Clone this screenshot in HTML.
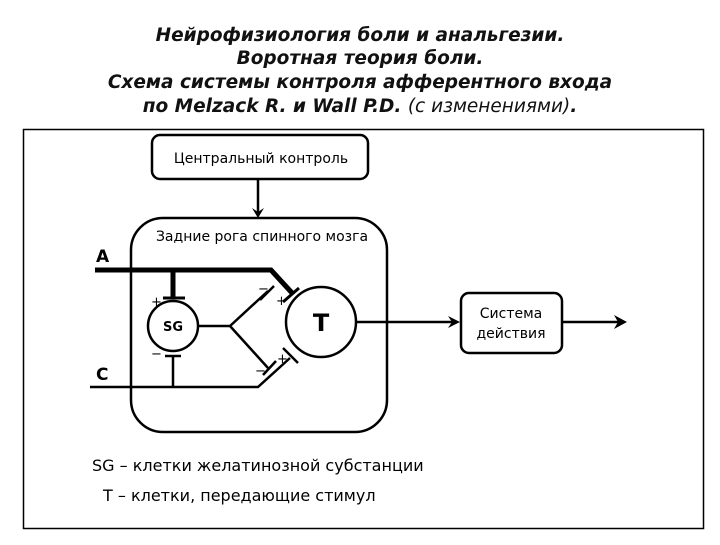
<!DOCTYPE html>
<html><head><meta charset="utf-8"><style>
body{margin:0;background:#fff;width:720px;height:540px;overflow:hidden;font-family:"Liberation Sans","DejaVu Sans",sans-serif}
</style></head><body>
<svg width="720" height="540" viewBox="0 0 720 540" xmlns="http://www.w3.org/2000/svg" font-family="'DejaVu Sans','Liberation Sans',sans-serif">
<g font-weight="bold" font-style="italic" font-size="18.5" text-anchor="middle" fill="#111">
<text x="360" y="41">Нейрофизиология боли и анальгезии.</text>
<text x="360" y="64">Воротная теория боли.</text>
<text x="360" y="88">Схема системы контроля афферентного входа</text>
<text x="360" y="112">по Melzack R. и Wall P.D. <tspan font-weight="normal">(с изменениями)</tspan>.</text>
</g>
<rect x="23.5" y="129.5" width="680" height="399" fill="none" stroke="#000" stroke-width="1.5"/>
<rect x="152" y="135" width="216" height="44" rx="8" fill="none" stroke="#000" stroke-width="2.5"/>
<text x="261" y="163" font-size="14" text-anchor="middle">Центральный контроль</text>
<line x1="258" y1="179" x2="258" y2="214" stroke="#000" stroke-width="2.5"/>
<path d="M252,208 L258,218 L264,208 L258,212Z" fill="#000"/>
<rect x="131" y="218" width="256" height="214" rx="32" fill="none" stroke="#000" stroke-width="2.5"/>
<text x="262" y="241" font-size="14" text-anchor="middle">Задние рога спинного мозга</text>
<text x="96" y="262" font-size="17" font-weight="bold">A</text>
<text x="96" y="380" font-size="17" font-weight="bold">C</text>
<path d="M95,270 L271,270 L293,294" fill="none" stroke="#000" stroke-width="5"/>
<line x1="283" y1="302" x2="299" y2="288" stroke="#000" stroke-width="3"/>
<line x1="173" y1="270" x2="173" y2="298" stroke="#000" stroke-width="5"/>
<line x1="163" y1="298" x2="185" y2="298" stroke="#000" stroke-width="3"/>
<circle cx="173" cy="326" r="25" fill="none" stroke="#000" stroke-width="2.5"/>
<text x="173" y="331" font-size="13" font-weight="bold" text-anchor="middle">SG</text>
<circle cx="321" cy="322" r="35" fill="none" stroke="#000" stroke-width="2.5"/>
<text x="321" y="331" font-size="24" font-weight="bold" text-anchor="middle">T</text>
<path d="M198,326 L230,326 L268,291 M230,326 L268,368" fill="none" stroke="#000" stroke-width="2.5"/>
<line x1="260" y1="300" x2="274" y2="286" stroke="#000" stroke-width="2.5"/>
<path d="M90,387 L258,387 L290,358" fill="none" stroke="#000" stroke-width="2.5"/>
<line x1="263" y1="375" x2="276" y2="361" stroke="#000" stroke-width="2.5"/>
<line x1="283" y1="348" x2="298" y2="363" stroke="#000" stroke-width="2.5"/>
<line x1="173" y1="387" x2="173" y2="356" stroke="#000" stroke-width="2.5"/>
<line x1="165" y1="356" x2="181" y2="356" stroke="#000" stroke-width="2.5"/>
<g font-size="13">
<text x="151" y="306">+</text><text x="151" y="358">−</text>
<text x="258" y="293">−</text><text x="276" y="305">+</text>
<text x="255" y="375">−</text><text x="277" y="363">+</text>
</g>
<line x1="356" y1="322" x2="456" y2="322" stroke="#000" stroke-width="2.5"/>
<path d="M448,316 L460,322 L448,328 L452,322Z" fill="#000"/>
<rect x="461" y="293" width="101" height="60" rx="8" fill="none" stroke="#000" stroke-width="2.5"/>
<text x="511" y="318" font-size="14" text-anchor="middle">Система</text>
<text x="511" y="338" font-size="14" text-anchor="middle">действия</text>
<line x1="562" y1="322" x2="624" y2="322" stroke="#000" stroke-width="2.5"/>
<path d="M614,315 L627,322 L614,329 L618,322Z" fill="#000"/>
<text x="92" y="471" font-size="16">SG –  клетки желатинозной субстанции</text>
<text x="103" y="501" font-size="16">T –  клетки, передающие стимул</text>
</svg>
</body></html>
